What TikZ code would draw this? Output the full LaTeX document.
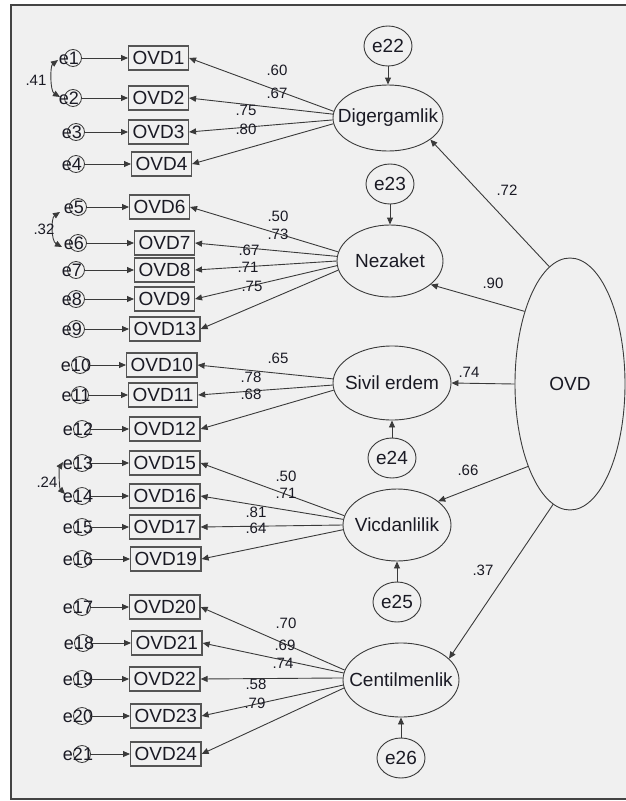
\documentclass[tikz,border=0pt]{standalone}
\usepackage{fontspec}
\setmainfont{Liberation Sans}
\usetikzlibrary{arrows.meta,shapes.geometric}
\definecolor{bg}{HTML}{F0F0F0}
\definecolor{ln}{HTML}{3A3A3A}
\definecolor{bx}{HTML}{555555}
\definecolor{tx}{HTML}{1A1A24}
\definecolor{fr}{HTML}{444444}
\begin{document}
\begin{tikzpicture}[x=1pt,y=-1pt,
  every node/.style={text=tx},
  obs/.style={draw=bx, line width=1.3pt, rectangle, minimum height=24pt, inner xsep=4pt, inner ysep=0pt, anchor=west, font=\fontsize{19}{21}\selectfont},
  lat/.style={draw=ln, line width=0.9pt, ellipse, inner sep=0pt, label={[font=\fontsize{19}{21}\selectfont]center:#1}},
  errl/.style={draw=ln, line width=0.9pt, ellipse, minimum width=48pt, minimum height=40pt, inner sep=0pt, label={[font=\fontsize{19}{21}\selectfont]center:#1}},
  ecirc/.style={draw=ln, line width=0.8pt, circle, minimum size=17pt, inner sep=0pt, label={[font=\fontsize{18}{20}\selectfont, xshift=-4pt]center:#1}},
  arr/.style={draw=ln, line width=0.9pt, -{Triangle[length=7pt,width=6pt]}},
  cov/.style={draw=ln, line width=0.9pt, {Triangle[length=7pt,width=6pt]}-{Triangle[length=7pt,width=6pt]}},
  ld/.style={font=\fontsize{15}{17}\selectfont, inner sep=0pt}]
\useasboundingbox (0,0) rectangle (626,801);
\fill[white] (0,0) rectangle (626,801);
\fill[bg] (11,5) rectangle (626,800);
\draw[fr, line width=2pt] (626,5) -- (11,5) -- (11,799) -- (626,799);

% observed boxes
\node[obs] (o1) at (128,58) {OVD1};
\node[obs] (o2) at (128,98) {OVD2};
\node[obs] (o3) at (128,132) {OVD3};
\node[obs] (o4) at (131,164) {OVD4};
\node[obs] (o6) at (129,207) {OVD6};
\node[obs] (o7) at (134,243) {OVD7};
\node[obs] (o8) at (134,270) {OVD8};
\node[obs] (o9) at (134,299) {OVD9};
\node[obs] (o13) at (129,329) {OVD13};
\node[obs] (o10) at (126,365) {OVD10};
\node[obs] (o11) at (128,395) {OVD11};
\node[obs] (o12) at (129,429) {OVD12};
\node[obs] (o15) at (129,463) {OVD15};
\node[obs] (o16) at (129,496) {OVD16};
\node[obs] (o17) at (129,527) {OVD17};
\node[obs] (o19) at (130,559) {OVD19};
\node[obs] (o20) at (129,607) {OVD20};
\node[obs] (o21) at (131,643) {OVD21};
\node[obs] (o22) at (129,679) {OVD22};
\node[obs] (o23) at (130,716) {OVD23};
\node[obs] (o24) at (130,754) {OVD24};

% error circles
\node[ecirc=e1] (e1) at (73,58) {};
\node[ecirc=e2] (e2) at (73,98) {};
\node[ecirc=e3] (e3) at (76,132) {};
\node[ecirc=e4] (e4) at (76,164) {};
\node[ecirc=e5] (e5) at (78,207) {};
\node[ecirc=e6] (e6) at (78,243) {};
\node[ecirc=e7] (e7) at (76,270) {};
\node[ecirc=e8] (e8) at (76,299) {};
\node[ecirc=e9] (e9) at (76,329) {};
\node[ecirc=e10] (e10) at (80,365) {};
\node[ecirc=e11] (e11) at (80,395) {};
\node[ecirc=e12] (e12) at (82,429) {};
\node[ecirc=e13] (e13) at (82,463) {};
\node[ecirc=e14] (e14) at (82,496) {};
\node[ecirc=e15] (e15) at (82,527) {};
\node[ecirc=e16] (e16) at (82,559) {};
\node[ecirc=e17] (e17) at (82,607) {};
\node[ecirc=e18] (e18) at (83,643) {};
\node[ecirc=e19] (e19) at (82,679) {};
\node[ecirc=e20] (e20) at (82,716) {};
\node[ecirc=e21] (e21) at (82,754) {};

\foreach \i/\j in {1/1,2/2,3/3,4/4,5/6,6/7,7/8,8/9,9/13,10/10,11/11,12/12,13/15,14/16,15/17,16/19,17/20,18/21,19/22,20/23,21/24}
  \draw[arr] (e\i) -- (o\j);

% covariances
\coordinate (c1) at (58,60); \coordinate (c2) at (60,97);
\draw[cov] (c1) .. controls (50,66) and (50,91) .. (c2);
\coordinate (c5) at (60,212); \coordinate (c6) at (62,247);
\draw[cov] (c5) .. controls (51,218) and (51,241) .. (c6);
\coordinate (c13) at (63,462); \coordinate (c14) at (65,494);
\draw[cov] (c13) .. controls (59,468) and (59,488) .. (c14);
\node[ld] at (36,80) {.41};
\node[ld] at (44,229) {.32};
\node[ld] at (47,482) {.24};

% latent variables
\node[lat=Digergamlik, minimum width=110pt, minimum height=66pt] (dig) at (388,118) {};
\node[lat=Nezaket, minimum width=106pt, minimum height=72pt] (nez) at (390,261) {};
\node[lat={Sivil erdem}, minimum width=118pt, minimum height=74pt] (siv) at (392,383) {};
\node[lat=Vicdanlilik, minimum width=108pt, minimum height=72pt] (vic) at (397,525) {};
\node[lat=Centilmenlik, minimum width=116pt, minimum height=74pt] (cen) at (401,680) {};
\node[lat=OVD, minimum width=110pt, minimum height=252pt] (ovd) at (570,384) {};

% disturbances
\node[errl=e22] (e22) at (388,46) {};
\node[errl=e23] (e23) at (390,184) {};
\node[errl=e24] (e24) at (392,458) {};
\node[errl=e25] (e25) at (397,602) {};
\node[errl=e26] (e26) at (401,758) {};
\draw[arr] (e22) -- (dig);
\draw[arr] (e23) -- (nez);
\draw[arr] (e24) -- (siv);
\draw[arr] (e25) -- (vic);
\draw[arr] (e26) -- (cen);

% loadings
\draw[arr] (dig.173) -- (o1.east);
\draw[arr] (dig.176) -- (o2.east);
\draw[arr] (dig.182) -- (o3.east);
\draw[arr] (dig.186) -- (o4.east);
\draw[arr] (nez.170) -- (o6.east);
\draw[arr] (nez.175) -- (o7.east);
\draw[arr] (nez.180) -- (o8.east);
\draw[arr] (nez.185) -- (o9.east);
\draw[arr] (nez.190) -- (o13.east);
\draw[arr] (siv.176) -- (o10.east);
\draw[arr] (siv.182) -- (o11.east);
\draw[arr] (siv.187) -- (o12.east);
\draw[arr] (vic.170) -- (o15.east);
\draw[arr] (vic.174) -- (o16.east);
\draw[arr] (vic.180) -- (o17.east);
\draw[arr] (vic.185) -- (o19.east);
\draw[arr] (cen.170) -- (o20.east);
\draw[arr] (cen.173) -- (o21.east);
\draw[arr] (cen.178) -- (o22.east);
\draw[arr] (cen.185) -- (o23.east);
\draw[arr] (cen.188) -- (o24.east);

\node[ld] at (277,70) {.60};
\node[ld] at (277,93) {.67};
\node[ld] at (246,110) {.75};
\node[ld] at (246,129) {.80};
\node[ld] at (278,216) {.50};
\node[ld] at (278,234) {.73};
\node[ld] at (249,250) {.67};
\node[ld] at (248,267) {.71};
\node[ld] at (252,286) {.75};
\node[ld] at (278,358) {.65};
\node[ld] at (251,377) {.78};
\node[ld] at (251,394) {.68};
\node[ld] at (286,476) {.50};
\node[ld] at (286,493) {.71};
\node[ld] at (256,512) {.81};
\node[ld] at (256,528) {.64};
\node[ld] at (286,623) {.70};
\node[ld] at (285,645) {.69};
\node[ld] at (283,663) {.74};
\node[ld] at (256,684) {.58};
\node[ld] at (255,703) {.79};

% structural paths
\draw[arr] (ovd.100) -- (dig.-27);
\draw[arr] (ovd.122) -- (nez.-30);
\draw[arr] (ovd.180) -- (siv.east);
\draw[arr] (ovd.243) -- (vic.30);
\draw[arr] (ovd.262) -- (cen.24);
\node[ld] at (507,190) {.72};
\node[ld] at (493,283) {.90};
\node[ld] at (469,372) {.74};
\node[ld] at (468,470) {.66};
\node[ld] at (483,570) {.37};
\end{tikzpicture}
\end{document}
